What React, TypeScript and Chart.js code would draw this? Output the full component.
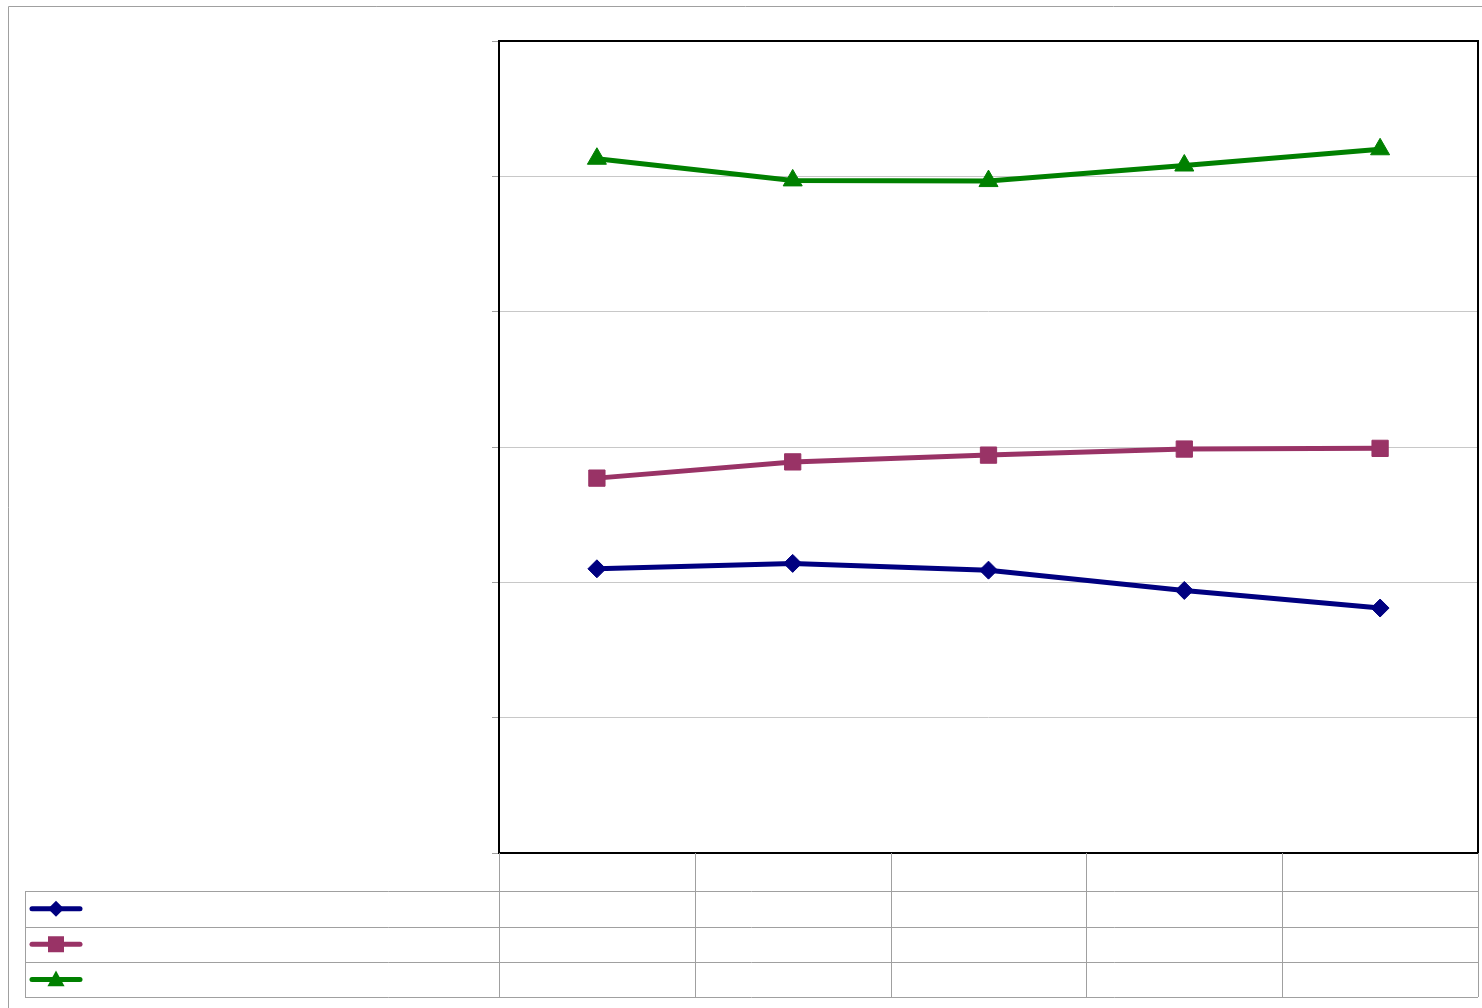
import React, { useEffect, useRef } from "react";
import { Chart, registerables } from "chart.js";

Chart.register(...registerables);

const categories = ["", "", "", "", ""];
const seriesBlue = [2.1, 2.14, 2.09, 1.94, 1.81];
const seriesPurple = [2.77, 2.89, 2.94, 2.985, 2.99];
const seriesGreen = [5.13, 4.97, 4.965, 5.08, 5.2];
const yTicks = [0, 1, 2, 3, 4, 5, 6];

const colors = ["#000080", "#993366", "#008000"];
const styles = ["rectRot", "rect", "triangle"];

export default function App() {
  const ref = useRef<HTMLCanvasElement | null>(null);
  useEffect(() => {
    if (!ref.current) return;
    const tablePlugin = {
      id: "tablePlugin",
      afterDraw(chart: any) {
        const ctx = chart.ctx;
        const ca = chart.chartArea;
        const xs = chart.scales.x;
        const n = categories.length;
        ctx.save();
        // outer border
        ctx.strokeStyle = "#a0a0a0";
        ctx.lineWidth = 1;
        ctx.beginPath();
        ctx.moveTo(8.5, 1008);
        ctx.lineTo(8.5, 6.5);
        ctx.lineTo(1482, 6.5);
        ctx.stroke();
        // plot frame
        ctx.strokeStyle = "#000";
        ctx.lineWidth = 2;
        ctx.strokeRect(ca.left, ca.top, ca.right - ca.left, ca.bottom - ca.top);
        // table
        const rows = [891, 926.5, 962, 997];
        ctx.strokeStyle = "#a0a0a0";
        ctx.lineWidth = 1;
        ctx.beginPath();
        const bounds: number[] = [ca.left];
        for (let i = 1; i < n; i++) {
          bounds.push((xs.getPixelForValue(i - 1) + xs.getPixelForValue(i)) / 2);
        }
        bounds.push(ca.right);
        bounds.forEach((bx) => {
          const px = Math.round(bx) + 0.5;
          ctx.moveTo(px, ca.bottom);
          ctx.lineTo(px, rows[rows.length - 1]);
        });
        rows.forEach((ry) => {
          ctx.moveTo(25, Math.round(ry) + 0.5);
          ctx.lineTo(ca.right, Math.round(ry) + 0.5);
        });
        ctx.moveTo(25.5, rows[0]);
        ctx.lineTo(25.5, rows[rows.length - 1]);
        ctx.stroke();
        // legend keys
        for (let k = 0; k < 3; k++) {
          const cy = (rows[k] + rows[k + 1]) / 2;
          ctx.strokeStyle = colors[k];
          ctx.fillStyle = colors[k];
          ctx.lineWidth = 5;
          ctx.lineCap = "round";
          ctx.beginPath();
          ctx.moveTo(32, cy);
          ctx.lineTo(80, cy);
          ctx.stroke();
          const mx = 56;
          ctx.beginPath();
          if (k === 0) {
            const r = 8;
            ctx.moveTo(mx, cy - r);
            ctx.lineTo(mx + r, cy);
            ctx.lineTo(mx, cy + r);
            ctx.lineTo(mx - r, cy);
          } else if (k === 1) {
            ctx.rect(mx - 8, cy - 8, 16, 16);
          } else {
            const r = 9;
            ctx.moveTo(mx, cy - r);
            ctx.lineTo(mx + r * 0.95, cy + r * 0.75);
            ctx.lineTo(mx - r * 0.95, cy + r * 0.75);
          }
          ctx.closePath();
          ctx.fill();
        }
        ctx.restore();
      },
    };
    const mk = (label: string, data: number[], i: number, radius: number) => ({
      label,
      data,
      borderColor: colors[i],
      backgroundColor: colors[i],
      pointBackgroundColor: colors[i],
      pointBorderColor: colors[i],
      pointStyle: styles[i],
      pointRadius: radius,
      pointBorderWidth: 1,
      borderWidth: 5,
      tension: 0,
    });
    const chart = new Chart(ref.current, {
      type: "line",
      data: {
        labels: categories,
        datasets: [
          mk("", seriesBlue, 0, 9),
          mk("", seriesPurple, 1, 11.5),
          mk("", seriesGreen, 2, 11),
        ],
      },
      plugins: [tablePlugin],
      options: {
        responsive: false,
        animation: false,
        devicePixelRatio: 1,
        layout: { autoPadding: false, padding: { left: 492, top: 41, right: 4, bottom: 155 } },
        plugins: { legend: { display: false }, tooltip: { enabled: false }, title: { display: false } },
        scales: {
          x: {
            type: "category",
            offset: true,
            display: false,
          },
          y: {
            min: yTicks[0],
            max: yTicks[yTicks.length - 1],
            afterBuildTicks: (s: any) => {
              s.ticks = yTicks.map((v) => ({ value: v }));
            },
            afterFit: (s: any) => {
              s.width = 7;
            },
            ticks: { display: false },
            border: { display: false },
            grid: {
              color: "#c8c8c8",
              lineWidth: 1,
              drawTicks: true,
              tickLength: 7,
              tickColor: "#a0a0a0",
            },
          },
        },
      },
    });
    return () => chart.destroy();
  }, []);
  return (
    <div style={{ position: "absolute", left: 0, top: 0, width: 1482, height: 1008, background: "#fff" }}>
      <canvas ref={ref} width={1482} height={1008} style={{ width: 1482, height: 1008, display: "block" }} />
    </div>
  );
}
